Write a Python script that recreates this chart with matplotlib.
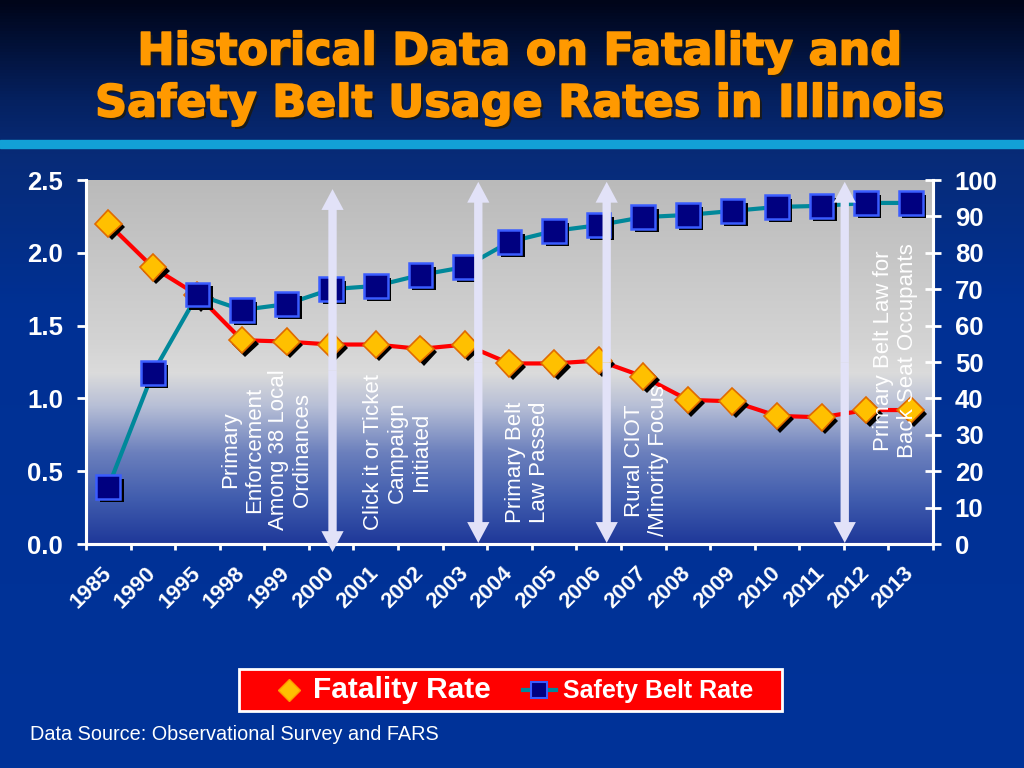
import numpy as np
import matplotlib
matplotlib.use('Agg')
import matplotlib.pyplot as plt
import matplotlib.patheffects as pe
from matplotlib.colors import LinearSegmentedColormap
from matplotlib.lines import Line2D
from matplotlib.patches import FancyArrowPatch, ArrowStyle, Rectangle

plt.rcParams['font.family'] = ['Liberation Sans', 'DejaVu Sans']

years = ['1985', '1990', '1995', '1998', '1999', '2000', '2001', '2002', '2003', '2004',
         '2005', '2006', '2007', '2008', '2009', '2010', '2011', '2012', '2013']
fatality = [2.20, 1.90, 1.71, 1.40, 1.39, 1.37, 1.37, 1.34, 1.37, 1.24,
            1.24, 1.26, 1.15, 0.99, 0.98, 0.88, 0.87, 0.92, 0.92]
belt = [15.7, 47.0, 68.5, 64.3, 65.9, 70.0, 70.9, 73.9, 76.1, 83.0,
        86.0, 87.6, 89.8, 90.4, 91.5, 92.6, 92.9, 93.7, 93.7]

# events: (x position in categories, arrow top, arrow bottom) in belt-axis units
event_x = [5.03, 8.30, 11.18, 16.52]
event_top = [97.5, 99.5, 99.5, 99.5]
event_bottom = [-2.2, 0.3, 0.3, 0.3]
notes = ['Primary\nEnforcement\nAmong 38 Local\nOrdinances',
         'Click it or Ticket\nCampaign\nInitiated',
         'Primary Belt\nLaw Passed',
         'Rural CIOT\n/Minority Focus',
         'Primary Belt Law for\nBack Seat Occupants']
note_x = [3.55, 6.49, 9.40, 12.07, 17.66]
note_y = [25.8, 25.2, 22.4, 22.8, 53.0]

x = np.arange(len(years))

fig = plt.figure(figsize=(10.24, 7.68), dpi=100)

# slide background
bg = fig.add_axes([0, 0, 1, 1], zorder=-10)
bg_cmap = LinearSegmentedColormap.from_list('bg', [
    (0.0, (0.0, 0.20, 0.60)),
    (0.60, (0.0, 0.19, 0.58)),
    (0.80, (0.03, 0.17, 0.47)),
    (0.87, (0.02, 0.13, 0.38)),
    (1.0, (0.0, 0.02, 0.10))])
bg.imshow(np.linspace(0, 1, 256).reshape(-1, 1), cmap=bg_cmap, aspect='auto',
          extent=[0, 1, 0, 1], origin='lower')
bg.axhspan(1 - 148 / 768, 1 - 140 / 768, color='#12a0d6')
bg.set_xlim(0, 1)
bg.set_ylim(0, 1)
bg.axis('off')

ax = fig.add_axes([86 / 1024, 1 - 544 / 768, 847 / 1024, 364 / 768])
ax.set_facecolor('none')
plot_cmap = LinearSegmentedColormap.from_list('plotbg', [
    (0.0, (0.12, 0.22, 0.60)),
    (0.12, (0.25, 0.36, 0.68)),
    (0.25, (0.42, 0.50, 0.74)),
    (0.38, (0.72, 0.75, 0.84)),
    (0.47, (0.86, 0.86, 0.86)),
    (0.55, (0.83, 0.83, 0.83)),
    (1.0, (0.73, 0.73, 0.73))])
ax.imshow(np.linspace(0, 1, 256).reshape(-1, 1), cmap=plot_cmap, aspect='auto',
          extent=[0, 1, 0, 1], origin='lower', transform=ax.transAxes, zorder=0)

ax2 = ax.twinx()

shadow = [pe.SimplePatchShadow(offset=(2.5, -2.5), shadow_rgbFace='black', alpha=1.0), pe.Normal()]

ax.plot(x, fatality, color='#ff0000', lw=3, zorder=2)
ax.plot(x, fatality, ls='none', marker='D', ms=13.5, mfc='#ffc000', mec='#e06a00', mew=1.2,
        zorder=3, path_effects=shadow)
ax2.plot(x, belt, color='#00889a', lw=3, zorder=2)
ax2.plot(x, belt, ls='none', marker='s', ms=17, mfc='#000080', mec='#3a5cff', mew=1.8,
         zorder=3, path_effects=shadow)

ax.set_xlim(-0.5, len(years) - 0.5)
ax.set_ylim(0, 2.5)
ax2.set_ylim(0, 100)
ax.set_yticks(np.arange(0, 2.51, 0.5))
ax2.set_yticks(np.arange(0, 101, 10))
ax.yaxis.set_major_formatter(matplotlib.ticker.FormatStrFormatter('%.1f'))

ax.set_xticks(np.arange(-0.5, len(years), 1.0))
ax.set_xticklabels([])
ax.set_xticks(x, minor=True)
ax.set_xticklabels(years, minor=True, rotation=45, rotation_mode='anchor', ha='right',
                   va='center', fontsize=16, fontweight='bold', color='white')
ax.tick_params(axis='x', which='major', direction='out', length=4, width=2, color='white')
ax.tick_params(axis='x', which='minor', length=0, pad=19)
ax.tick_params(axis='y', direction='out', length=6.5, width=2, color='white',
               labelsize=18.5, labelcolor='white', pad=10)
ax2.tick_params(axis='y', direction='inout', length=11.5, width=2, color='white',
                labelsize=18.5, labelcolor='white', pad=10)
for lab in ax.get_yticklabels() + ax2.get_yticklabels():
    lab.set_fontweight('bold')

for a in (ax, ax2):
    for side in ('left', 'right', 'bottom'):
        a.spines[side].set_color('white')
        a.spines[side].set_linewidth(2.2)
    a.spines['top'].set_visible(False)

# event arrows
for ex, top, bot in zip(event_x, event_top, event_bottom):
    mid = (top + bot) / 2
    for end in (top, bot):
        arr = FancyArrowPatch((ex, mid), (ex, end), shrinkA=0, shrinkB=0,
                              arrowstyle=ArrowStyle.Simple(head_length=1.5, head_width=1.6, tail_width=0.6),
                              mutation_scale=10, color='#e2e2f8', lw=0, zorder=5, clip_on=False)
        ax2.add_patch(arr)

for t, nx, ny in zip(notes, note_x, note_y):
    ax2.text(nx, ny, t, rotation=90, ha='center', va='center', multialignment='center',
             fontsize=16, color='white', zorder=6)

# title
for line, ty in [('Historical Data on Fatality and', 1 - 52 / 768),
                 ('Safety Belt Usage Rates in Illinois', 1 - 104 / 768)]:
    fig.text(0.508, ty, line, ha='center', va='center', fontsize=32, fontweight='bold',
             family='DejaVu Sans', color='#ff9900',
             path_effects=[pe.SimplePatchShadow(offset=(2, -2), shadow_rgbFace='#1a1a1a', alpha=1.0),
                           pe.Stroke(linewidth=1.2, foreground='#ff9900'), pe.Normal()])

# legend: red box behind a frameless legend
fig.add_artist(Rectangle((239 / 1024, 1 - 711 / 768), 543 / 1024, 42 / 768,
                         transform=fig.transFigure, facecolor='#ff0000', edgecolor='white',
                         lw=2, zorder=1))
h1 = Line2D([], [], ls='none', marker='D', ms=11, mfc='#ffc000', mec='#ff9900', mew=1)
h2 = Line2D([], [], color='#00889a', lw=3, marker='s', ms=12, mfc='#000080', mec='#3a5cff', mew=1.5)
leg = fig.legend([h1, h2], ['Fatality Rate', 'Safety Belt Rate'], loc='center',
                 bbox_to_anchor=(0.501, 1 - 690 / 768), ncol=2, frameon=False,
                 handlelength=1.4, handletextpad=0.3, columnspacing=1.35, borderpad=0,
                 borderaxespad=0, prop={'weight': 'bold', 'size': 17})
leg.set_zorder(2)
texts = leg.get_texts()
texts[0].set_fontsize(21.5)
texts[1].set_fontsize(18)
for t in texts:
    t.set_color('white')

fig.text(30 / 1024, 1 - 735 / 768, 'Data Source: Observational Survey and FARS', ha='left',
         va='center', fontsize=14.3, color='white')

fig.savefig('out.png', dpi=100)
